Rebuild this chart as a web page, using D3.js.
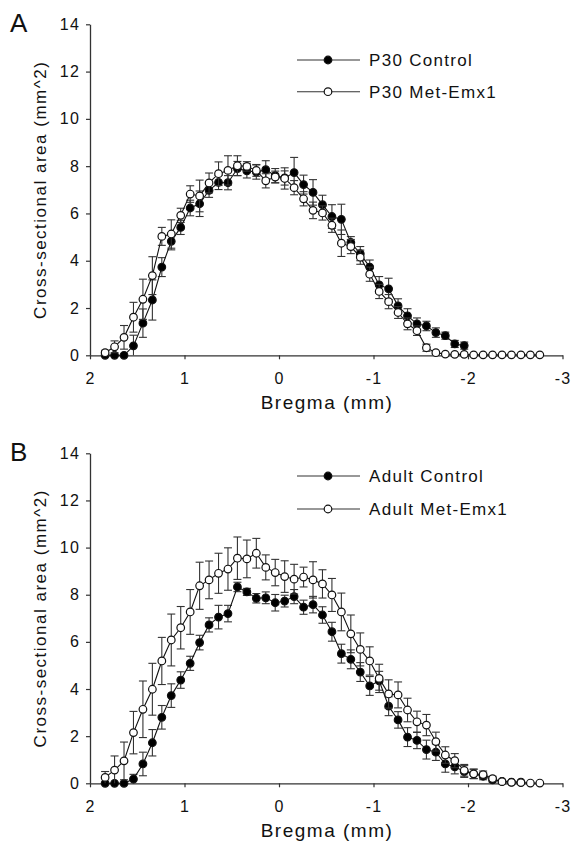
<!DOCTYPE html>
<html>
<head>
<meta charset="utf-8">
<script src="https://cdn.jsdelivr.net/npm/d3@7/dist/d3.min.js"></script>
<style>
    body { margin: 0; background: #fff; }
    text { font-family: Arial, "Liberation Sans", sans-serif; fill: #111; }
</style>
</head>
<body>
<div id="chart"></div>
<script>
// 1: DATA
// section positions along Bregma (mm), 0.1 mm apart
const bregma = [1.84, 1.74, 1.64, 1.54, 1.44, 1.34, 1.24, 1.14, 1.04, 0.94,
    0.84, 0.74, 0.64, 0.54, 0.44, 0.34, 0.24, 0.14, 0.04, -0.06,
    -0.16, -0.26, -0.36, -0.46, -0.56, -0.66, -0.76, -0.86, -0.96, -1.06,
    -1.16, -1.26, -1.36, -1.46, -1.56, -1.66, -1.76, -1.86, -1.96, -2.06,
    -2.16, -2.26, -2.36, -2.46, -2.56, -2.66, -2.76];

const xTicks = [2, 1, 0, -1, -2, -3];
const yTicks = [0, 2, 4, 6, 8, 10, 12, 14];

// Panel A
const p30Control = [0, 0, 0, 0.4, 1.36, 2.34, 3.73, 4.82, 5.41, 6.23,
    6.41, 6.98, 7.31, 7.30, 7.9, 7.8, 7.75, 7.85, 7.6, 7.5,
    7.73, 7.22, 6.89, 6.37, 5.87, 5.75, 4.77, 4.3, 3.73, 2.98,
    2.81, 2.09, 1.67, 1.33, 1.24, 0.96, 0.83, 0.48, 0.41];
const p30ControlErr = [0, 0, 0, 0.45, 0.6, 0.85, 0.4, 0.36, 0.3, 0.33,
    0.54, 0.3, 0.3, 0.3, 0.3, 0.3, 0.3, 0.38, 0.3, 0.3,
    0.64, 0.4, 0.54, 0.4, 0.5, 0.64, 0.25, 0.3, 0.3, 0.35,
    0.45, 0.3, 0.3, 0.25, 0.2, 0.2, 0.15, 0.15, 0.15];
const p30Met = [0.11, 0.36, 0.76, 1.61, 2.37, 3.37, 5.03, 5.13, 5.92, 6.82,
    6.74, 7.29, 7.68, 7.82, 8.02, 7.99, 7.82, 7.38, 7.54, 7.48,
    7.09, 6.62, 6.13, 6.02, 5.50, 4.74, 4.60, 4.15, 3.43, 2.70,
    2.27, 1.81, 1.33, 1.04, 0.32, 0.11, 0.05, 0.04, 0.04, 0.02,
    0.02, 0.02, 0.02, 0.02, 0.02, 0.02, 0.02];
const p30MetErr = [0.1, 0.25, 0.5, 0.63, 0.85, 0.8, 0.38, 0.6, 0.3, 0.35,
    0.67, 0.42, 0.5, 0.62, 0.42, 0.2, 0.25, 0.3, 0.25, 0.45,
    0.3, 0.3, 0.35, 0.3, 0.3, 0.56, 0.3, 0.3, 0.3, 0.3,
    0.3, 0.25, 0.25, 0.2, 0.15, 0.05, 0, 0, 0, 0,
    0, 0, 0, 0, 0, 0, 0];

// Panel B
const adultControl = [0, 0, 0, 0.18, 0.82, 1.72, 2.8, 3.72, 4.38, 5.09,
    5.97, 6.72, 7.05, 7.2, 8.33, 8.12, 7.85, 7.87, 7.66, 7.73,
    7.92, 7.47, 7.58, 7.14, 6.43, 5.5, 5.26, 4.72, 4.13, 4.35,
    3.27, 2.69, 1.96, 1.82, 1.43, 1.32, 0.82, 0.7, 0.5, 0.4,
    0.3, 0.15, 0.08, 0.05, 0.05];
const adultControlErr = [0, 0, 0, 0.2, 0.5, 0.56, 0.5, 0.5, 0.35, 0.3,
    0.31, 0.3, 0.5, 0.35, 0.2, 0.15, 0.2, 0.25, 0.35, 0.25,
    0.3, 0.3, 0.35, 0.35, 0.4, 0.4, 0.4, 0.4, 0.4, 0.4,
    0.4, 0.35, 0.4, 0.35, 0.4, 0.35, 0.35, 0.3, 0.25, 0.2,
    0.15, 0.1, 0.05, 0.03, 0.03];
const adultMet = [0.25, 0.56, 0.95, 2.15, 3.14, 3.99, 5.19, 6.08, 6.6, 7.27,
    8.38, 8.63, 8.91, 9.09, 9.55, 9.52, 9.76, 9.16, 8.94, 8.77,
    8.66, 8.75, 8.63, 8.46, 7.99, 7.27, 6.34, 5.68, 5.19, 4.45,
    3.79, 3.75, 3.11, 2.61, 2.47, 1.77, 1.2, 0.96, 0.55, 0.4,
    0.37, 0.2, 0.07, 0.04, 0.03, 0.01, 0.01];
const adultMetErr = [0.25, 0.6, 0.8, 0.9, 1.2, 1.1, 1.0, 1.1, 0.9, 0.95,
    1.0, 0.8, 0.85, 0.9, 0.9, 0.8, 0.63, 0.53, 0.56, 0.67,
    0.63, 0.42, 0.77, 0.6, 0.7, 0.8, 0.8, 0.7, 0.6, 0.6,
    0.6, 0.55, 0.5, 0.45, 0.45, 0.4, 0.35, 0.3, 0.25, 0.2,
    0.15, 0.1, 0.05, 0.03, 0, 0, 0];

// 2: SVG + SHARED SCALE
const svg = d3.select("#chart")
    .append("svg")
    .attr("width", 573)
    .attr("height", 842);

const xBregma = d3.scaleLinear()
    .domain([2, -3])
    .range([90, 562.5]);

const capW = 4;

function drawPanel(p) {
    const yArea = d3.scaleLinear()
        .domain([0, 14])
        .range([p.bottom, p.top]);

    const g = svg.append("g");

    // axes
    const yAxis = g.append("g")
        .attr("transform", "translate(90,0)")
        .call(d3.axisLeft(yArea).tickValues(yTicks).tickFormat(d3.format("d"))
            .tickSize(4).tickPadding(6).tickSizeOuter(0));
    const xAxis = g.append("g")
        .attr("transform", `translate(0,${p.bottom})`)
        .call(d3.axisBottom(xBregma).tickValues(xTicks).tickFormat(d => d < 0 ? "-" + Math.abs(d) : d)
            .tickSize(4).tickPadding(13).tickSizeOuter(0));
    [xAxis, yAxis].forEach(a => {
        a.select(".domain").attr("stroke", "#333").attr("stroke-width", 1.3);
        a.selectAll(".tick line").attr("stroke", "#333").attr("stroke-width", 1.2);
        a.selectAll(".tick text")
            .attr("fill", "#111")
            .style("font-size", "16px")
            .style("letter-spacing", "1.2px");
    });

    // series: control (filled) first, Met-Emx1 (open) drawn over it
    p.series.forEach(s => {
        const pts = s.values.map((v, i) => ({ b: bregma[i], v: v, e: s.err[i] }));

        const eb = g.append("g").attr("stroke", "#333").attr("stroke-width", 1.1);
        pts.filter(d => d.e > 0).forEach(d => {
            const xp = xBregma(d.b);
            const lo = yArea(Math.max(0, d.v - d.e));
            const hi = yArea(d.v + d.e);
            eb.append("line").attr("x1", xp).attr("x2", xp).attr("y1", lo).attr("y2", hi);
            eb.append("line").attr("x1", xp - capW).attr("x2", xp + capW).attr("y1", hi).attr("y2", hi);
            if (d.v - d.e > 0) {
                eb.append("line").attr("x1", xp - capW).attr("x2", xp + capW).attr("y1", lo).attr("y2", lo);
            }
        });

        const line = d3.line()
            .x(d => xBregma(d.b))
            .y(d => yArea(d.v));

        g.append("path")
            .datum(pts)
            .attr("d", line)
            .attr("fill", "none")
            .attr("stroke", "#111")
            .attr("stroke-width", 1.1);

        g.selectAll(null)
            .data(pts)
            .join("circle")
            .attr("cx", d => xBregma(d.b))
            .attr("cy", d => yArea(d.v))
            .attr("r", 3.8)
            .attr("fill", s.fill)
            .attr("stroke", "#111")
            .attr("stroke-width", 1.2);
    });

    // legend
    p.series.forEach((s, i) => {
        const ly = p.legendY[i];
        g.append("line")
            .attr("x1", 297).attr("x2", 360)
            .attr("y1", ly).attr("y2", ly)
            .attr("stroke", "#333").attr("stroke-width", 1.1);
        g.append("circle")
            .attr("cx", 328).attr("cy", ly).attr("r", 3.8)
            .attr("fill", s.fill).attr("stroke", "#111").attr("stroke-width", 1.2);
        g.append("text")
            .attr("x", 369).attr("y", ly)
            .attr("dy", "0.36em")
            .style("font-size", "17px")
            .style("letter-spacing", "1.3px")
            .text(s.name);
    });

    // labels
    g.append("text")
        .attr("x", 10).attr("y", p.top + 8)
        .style("font-size", "26px")
        .text(p.letter);

    g.append("text")
        .attr("x", 327)
        .attr("y", p.bottom + 54)
        .attr("text-anchor", "middle")
        .style("font-size", "19px")
        .style("letter-spacing", "1.5px")
        .text("Bregma (mm)");

    g.append("text")
        .attr("transform", `translate(46,${(p.top + p.bottom) / 2}) rotate(-90)`)
        .attr("text-anchor", "middle")
        .style("font-size", "17px")
        .style("letter-spacing", "1.5px")
        .text("Cross-sectional area (mm^2)");
}

drawPanel({
    letter: "A", top: 24.3, bottom: 355.3, legendY: [60, 91.7],
    series: [
        { name: "P30 Control", values: p30Control, err: p30ControlErr, fill: "#000" },
        { name: "P30 Met-Emx1", values: p30Met, err: p30MetErr, fill: "#fff" }
    ]
});

drawPanel({
    letter: "B", top: 453.3, bottom: 783.3, legendY: [476, 509],
    series: [
        { name: "Adult Control", values: adultControl, err: adultControlErr, fill: "#000" },
        { name: "Adult Met-Emx1", values: adultMet, err: adultMetErr, fill: "#fff" }
    ]
});
</script>
</body>
</html>
